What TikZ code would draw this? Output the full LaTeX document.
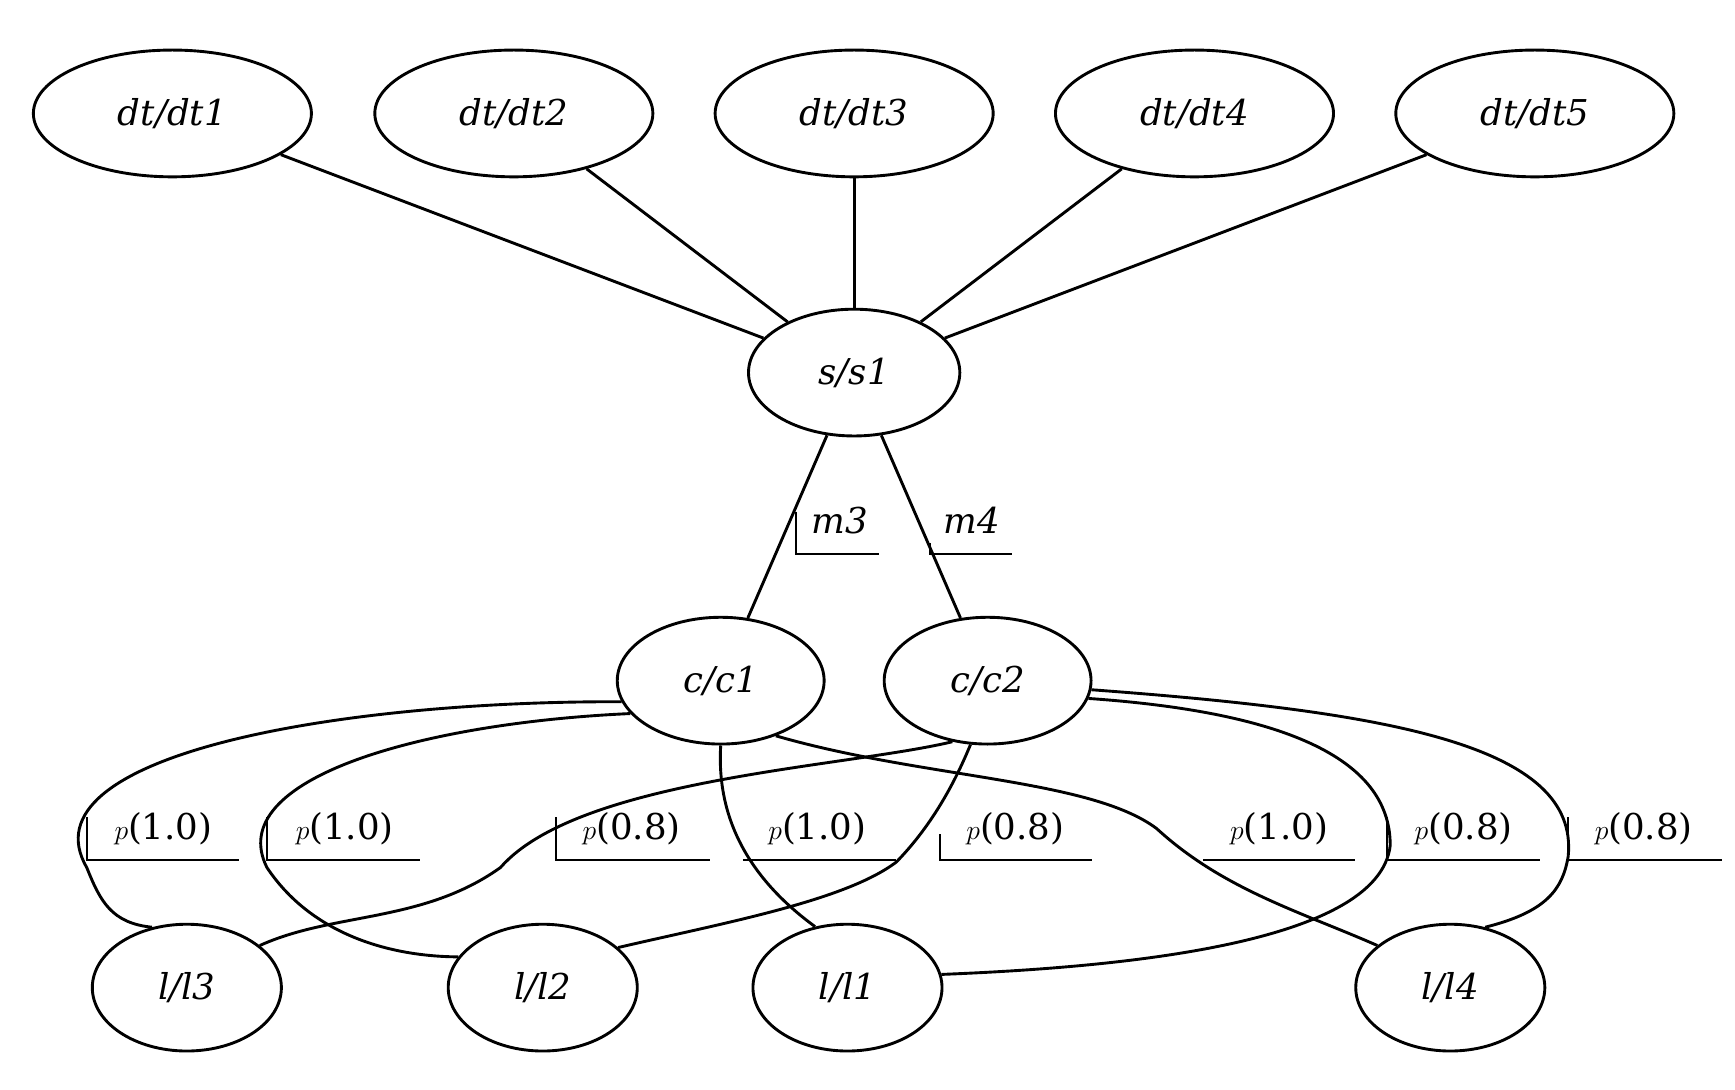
\documentclass[tikz,border=0pt]{standalone}
\usepackage{fontspec}
\setmainfont{DejaVu Serif}
\usetikzlibrary{shapes.geometric}
\begin{document}
\begin{tikzpicture}[x=1pt,y=-1pt,line width=2.6pt,
  nd/.style={ellipse,draw,line width=2.6pt,minimum width=#1,minimum height=114pt,inner sep=0pt,font=\fontsize{32}{36}\selectfont\itshape},
  nd/.default=250pt,
  lb/.style={font=\fontsize{32}{36}\selectfont,inner sep=0pt}]
\useasboundingbox (0,0) rectangle (1560,980);
\node[nd] (dt1) at (155,102) {dt/dt1};
\node[nd] (dt2) at (462,102) {dt/dt2};
\node[nd] (dt3) at (768,102) {dt/dt3};
\node[nd] (dt4) at (1074,102) {dt/dt4};
\node[nd] (dt5) at (1380,102) {dt/dt5};
\node[nd=190pt] (s1) at (768,335) {s/s1};
\node[nd=186pt] (c1) at (648,612) {c/c1};
\node[nd=186pt] (c2) at (888,612) {c/c2};
\node[nd=170pt] (l3) at (168,888) {l/l3};
\node[nd=170pt] (l2) at (488,888) {l/l2};
\node[nd=170pt] (l1) at (762,888) {l/l1};
\node[nd=170pt] (l4) at (1304,888) {l/l4};
\foreach \n in {dt1,dt2,dt3,dt4,dt5} \draw (\n) -- (s1);
\draw (s1) -- (c1);
\draw (s1) -- (c2);
% labels
\node[lb] (m3) at (755,468) {\itshape m3};
\node[lb] (m4) at (874,468) {\itshape m4};
\draw[line width=2pt] (716,460) -- (716,498) -- (790,498);
\draw[line width=2pt] (836,488) -- (836,498) -- (910,498);
\node[lb] (a) at (147,745) {$p$(1.0)};
\node[lb] (b) at (310,745) {$p$(1.0)};
\node[lb] (c) at (568,745) {$p$(0.8)};
\node[lb] (d) at (735,745) {$p$(1.0)};
\node[lb] (e) at (913,745) {$p$(0.8)};
\node[lb] (f) at (1150,745) {$p$(1.0)};
\node[lb] (g) at (1316,745) {$p$(0.8)};
\node[lb] (h) at (1478,745) {$p$(0.8)};
\draw[line width=2pt] (78,735) -- (78,773) -- (215,773);
\draw[line width=2pt] (240,735) -- (240,773) -- (378,773);
\draw[line width=2pt] (500,735) -- (500,773) -- (638,773);
\draw[line width=2pt] (668,773) -- (806,773);
\draw[line width=2pt] (845,750) -- (845,773) -- (982,773);
\draw[line width=2pt] (1082,773) -- (1218,773);
\draw[line width=2pt] (1247,735) -- (1247,773) -- (1385,773);
\draw[line width=2pt] (1410,735) -- (1410,773) -- (1548,773);
% curves
\draw (c1.192) .. controls (300,630) and (20,680) .. (78,780) .. controls (90,810) and (100,830) .. (l3.120);
\draw (c1.200) .. controls (380,650) and (200,700) .. (240,780) .. controls (280,840) and (350,860) .. (l2.160);
\draw (c2.240) .. controls (760,690) and (520,700) .. (450,780) .. controls (380,830) and (300,820) .. (l3.30);
\draw (c1.270) .. controls (645,720) and (660,780) .. (l1.118);
\draw (c2.255) .. controls (860,700) and (840,740) .. (806,775) .. controls (760,810) and (650,830) .. (l2.28);
\draw (c1.315) .. controls (830,700) and (980,700) .. (1040,745) .. controls (1100,800) and (1170,820) .. (l4.150);
\draw (c2.350) .. controls (1150,640) and (1250,680) .. (1250,760) .. controls (1240,850) and (1000,870) .. (l1.8);
\draw (c2.355) .. controls (1250,640) and (1420,670) .. (1410,770) .. controls (1405,800) and (1390,820) .. (l4.60);
\end{tikzpicture}
\end{document}
